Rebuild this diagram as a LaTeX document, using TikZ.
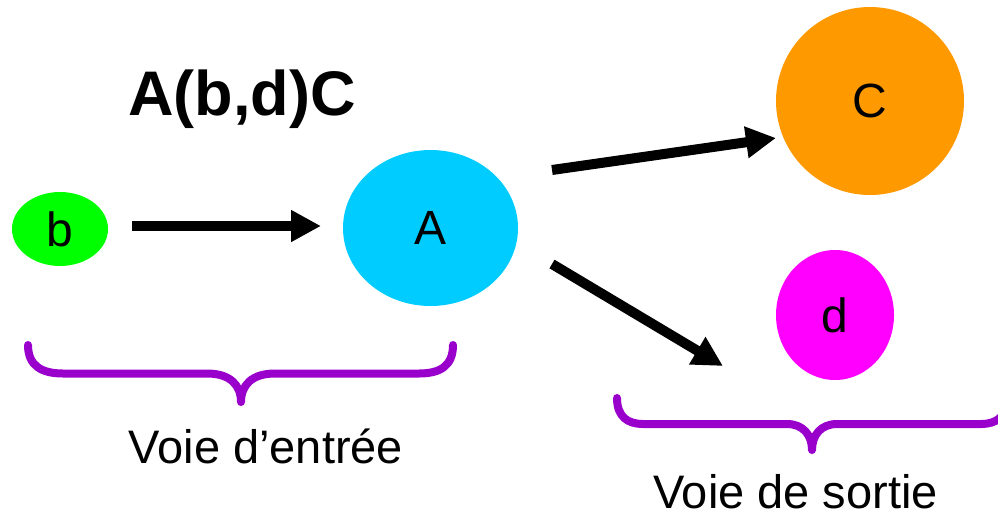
\documentclass[tikz,border=0pt]{standalone}
\usepackage{fontspec}
\setmainfont{Liberation Sans}
\usetikzlibrary{shapes.geometric,arrows.meta}
\definecolor{bgreen}{HTML}{00FF00}
\definecolor{acyan}{HTML}{00CCFF}
\definecolor{corange}{HTML}{FF9900}
\definecolor{dmagenta}{HTML}{FF00FF}
\definecolor{bracepurple}{HTML}{9900CC}
\tikzset{
  blob/.style={ellipse, inner sep=0pt, draw=none, font=\fontsize{48}{56}\selectfont},
  flow/.style={line width=10pt, -{Triangle[length=30pt,width=30pt]}},
  bracepath/.style={draw=bracepurple, line width=8pt, line cap=round, line join=round},
  caption/.style={anchor=base, inner sep=0pt, font=\fontsize{47}{56}\selectfont},
}
\begin{document}
\begin{tikzpicture}[x=1pt,y=-1pt]
\useasboundingbox (0,0) rectangle (998,515);
% title
\node[anchor=base west, inner sep=0pt, font=\fontsize{63}{72}\selectfont\bfseries] (title) at (128,115) {A(b,d)C};
% nodes
\node[blob, fill=bgreen, minimum width=96pt, minimum height=74pt] (b) at (60,229) {b};
\node[blob, fill=acyan, minimum width=175pt, minimum height=156pt] (A) at (430.5,228) {A};
\node[blob, circle, fill=corange, minimum size=188pt] (C) at (870,101) {C};
\node[blob, fill=dmagenta, minimum width=118pt, minimum height=130pt] (d) at (835,315) {d};
% connector end points
\coordinate (ba) at (132,226);
\coordinate (bb) at (321,226);
\coordinate (ca) at (552,170);
\coordinate (cb) at (776,138);
\coordinate (da) at (552,264);
\coordinate (db) at (723,366);
\draw[flow] (ba) -- (bb);
\draw[flow] (ca) -- (cb);
\draw[flow] (da) -- (db);
% braces
\coordinate (br1) at (241,402);
\draw[bracepath] (28,345) .. controls (28,366) and (42,373.5) .. (63,373.5) -- (207,373.5)
  .. controls (230,373.5) and (241,385) .. (br1)
  .. controls (241,385) and (252,373.5) .. (275,373.5) -- (419,373.5)
  .. controls (440,373.5) and (453,366) .. (453,345);
\begin{scope}
\clip (0,0) rectangle (998,515);
\coordinate (br2) at (812,450);
\draw[bracepath] (617,398) .. controls (617,417) and (628,424) .. (643,424) -- (787,424)
  .. controls (803,424) and (812,435) .. (br2)
  .. controls (812,435) and (821,424) .. (837,424) -- (981,424)
  .. controls (996,424) and (1007,417) .. (1007,398);
\end{scope}
% captions
\node[caption] (in) at (266,463) {Voie d’entrée};
\node[caption] (out) at (795.5,508) {Voie de sortie};
\end{tikzpicture}
\end{document}
